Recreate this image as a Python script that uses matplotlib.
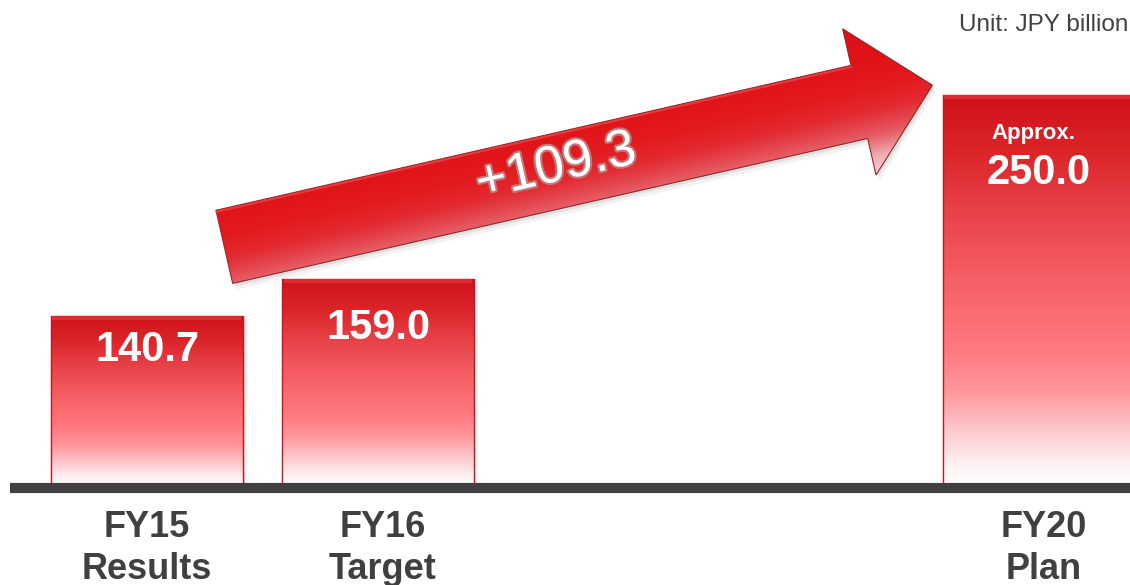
import numpy as np
import matplotlib
matplotlib.use("Agg")
import matplotlib.pyplot as plt
from matplotlib.colors import LinearSegmentedColormap, to_rgb
from matplotlib.patches import Polygon
import matplotlib.patheffects as pe

plt.rcParams["font.family"] = ["Liberation Sans", "DejaVu Sans"]

# Data
periods = ["FY15", "FY16", "FY20"]
kinds = ["Results", "Target", "Plan"]
values = [140.7, 159.0, 250.0]
value_notes = ["", "", "Approx."]
x_pos = [0, 1, 3.86]
unit_text = "Unit: JPY billion"

base = 55.6          # value at the dark baseline
bar_width = 0.83
label_drop = [34, 49, 78]   # px from bar top to value label centre
cat_shift = [0, 5, 5]       # px shift of category labels

DARK = "#404040"

fig = plt.figure(figsize=(11.3, 5.85), dpi=100)
ax = fig.add_axes([0, 0, 1, 1])
ax.set_xlim(-0.636, 4.255)
ax.set_ylim(7.6, 297.2)
ax.set_autoscale_on(False)
ax.axis("off")

# bar gradient: bottom (0) white -> top (1) dark red
bar_cmap = LinearSegmentedColormap.from_list("bar", [
    (0.00, "#ffffff"), (0.06, "#fdf1f2"), (0.15, "#fcc6ca"),
    (0.25, "#ff959a"), (0.35, "#ff7a80"), (0.45, "#fb6b71"),
    (0.58, "#f2585e"), (0.72, "#e73f46"), (0.86, "#da2428"),
    (1.00, "#d0121a"),
])
grad = np.linspace(0, 1, 256).reshape(-1, 1)

for xp, v in zip(x_pos, values):
    # soft shadow
    for k, a in [(4, 0.05), (2, 0.07)]:
        off = k / 231
        ax.bar(xp + off, v - base, bottom=base, width=bar_width,
               color="#000000", alpha=a, lw=0, zorder=1)
    ax.imshow(grad, cmap=bar_cmap, origin="lower", aspect="auto",
              extent=(xp - bar_width / 2, xp + bar_width / 2, base, v),
              zorder=2, interpolation="bicubic")
    ax.bar(xp, v - base, bottom=base, width=bar_width, color="none",
           edgecolor="#c4161c", lw=1.0, zorder=3)
    # top bevel
    ax.bar(xp, 2.0, bottom=v - 2.0, width=bar_width * 0.985,
           color="#ee3a40", alpha=0.6, lw=0, zorder=3)

# baseline
ax.axhline(base, xmin=10 / 1130, xmax=1, color=DARK, lw=7.3,
           solid_capstyle="butt", zorder=5)

# value labels
for xp, v, note, drop in zip(x_pos, values, value_notes, label_drop):
    ax.annotate(f"{v:.1f}", (xp, v), xytext=(0, -drop * 0.72),
                textcoords="offset points", ha="center", va="center",
                fontsize=30, fontweight="bold", color="white", zorder=6)
    if note:
        ax.annotate(note, (xp, v), xytext=(-4, -38 * 0.72),
                    textcoords="offset points", ha="center", va="center",
                    fontsize=16, fontweight="bold", color="white", zorder=6)

# category labels
for xp, p, k, s in zip(x_pos, periods, kinds, cat_shift):
    ax.annotate(p, (xp, base), xytext=(s * 0.72, -49 * 0.72),
                textcoords="offset points", ha="center", va="baseline",
                fontsize=26, fontweight="bold", color=DARK)
    ax.annotate(k, (xp, base), xytext=(s * 0.72, -91 * 0.72),
                textcoords="offset points", ha="center", va="baseline",
                fontsize=26, fontweight="bold", color=DARK)

ax.text(1128 / 1130, 1 - 25 / 585, unit_text, transform=ax.transAxes,
        ha="right", va="center", fontsize=17.5, color=DARK)

# growth arrow from FY15 towards FY20 (built in pixel space)
fig.canvas.draw()
to_px = ax.transData
to_data = ax.transData.inverted()
tail = np.array(to_px.transform((x_pos[0] + 0.335, 175)))
tip = np.array(to_px.transform((x_pos[2] - 0.46, 255)))
d = (tip - tail) / np.linalg.norm(tip - tail)
n = np.array([-d[1], d[0]])      # points up
L = np.linalg.norm(tip - tail)
hw, hhw, hl = 37.5, 75.0, 75.0
neck = tail + d * (L - hl)
pts_px = [tail + n * hw, neck + n * hw, neck + n * hhw, tip,
          neck - n * hhw, neck - n * hw, tail - n * hw]
pts = to_data.transform(pts_px)

# shadow
for k, a in [(6, 0.05), (3, 0.08)]:
    sh = to_data.transform(np.array(pts_px) + np.array([k * 0.6, -k]))
    ax.add_patch(Polygon(sh, closed=True, color="black", alpha=a, lw=0,
                         zorder=6))

arrow_patch = Polygon(pts, closed=True, facecolor="none",
                      edgecolor="#8c2a2a", lw=0.8, zorder=8)
ax.add_patch(arrow_patch)

stops = [(-0.6, "#dc1014"), (0.0, "#e01418"), (0.35, "#e31a1e"),
         (0.65, "#e22a30"), (0.85, "#e4464e"), (1.0, "#e65e66"),
         (1.25, "#eeaab0"), (1.6, "#f6dde0")]
sx = [s[0] for s in stops]
scol = np.array([to_rgb(s[1]) for s in stops])

P = np.array(pts_px)
x0, y0 = P.min(axis=0) - 2
x1, y1 = P.max(axis=0) + 2
gx, gy = np.meshgrid(np.arange(x0, x1), np.arange(y0, y1))
rel = np.stack([gx - tail[0], gy - tail[1]], axis=-1)
t = (hw - rel @ n) / (2 * hw)
img = np.stack([np.interp(t, sx, scol[:, c]) for c in range(3)], axis=-1)
e0 = to_data.transform((x0, y0))
e1 = to_data.transform((x1, y1))
im = ax.imshow(img, origin="lower", aspect="auto",
               extent=(e0[0], e1[0], e0[1], e1[1]), zorder=7,
               interpolation="bilinear")
im.set_clip_path(arrow_patch)

# top bevel highlight
ax.plot(*to_data.transform([tail + n * (hw - 1.5), neck + n * (hw - 1.5)]).T,
        color="#f04a4e", lw=1.5, alpha=0.7, zorder=8)

# growth label
c = tail + d * (L * 0.47) + n * 4
cd = to_data.transform(c)
ang = np.degrees(np.arctan2(d[1], d[0]))
ax.text(cd[0], cd[1], f"+{values[2] - values[0]:.1f}", rotation=ang,
        rotation_mode="anchor", ha="center", va="center", fontsize=38,
        color="white", zorder=9,
        path_effects=[pe.withStroke(linewidth=3, foreground="#c07878")])

ax.set_xlim(-0.636, 4.255)
ax.set_ylim(7.6, 297.2)
fig.savefig("out.png", dpi=100)
